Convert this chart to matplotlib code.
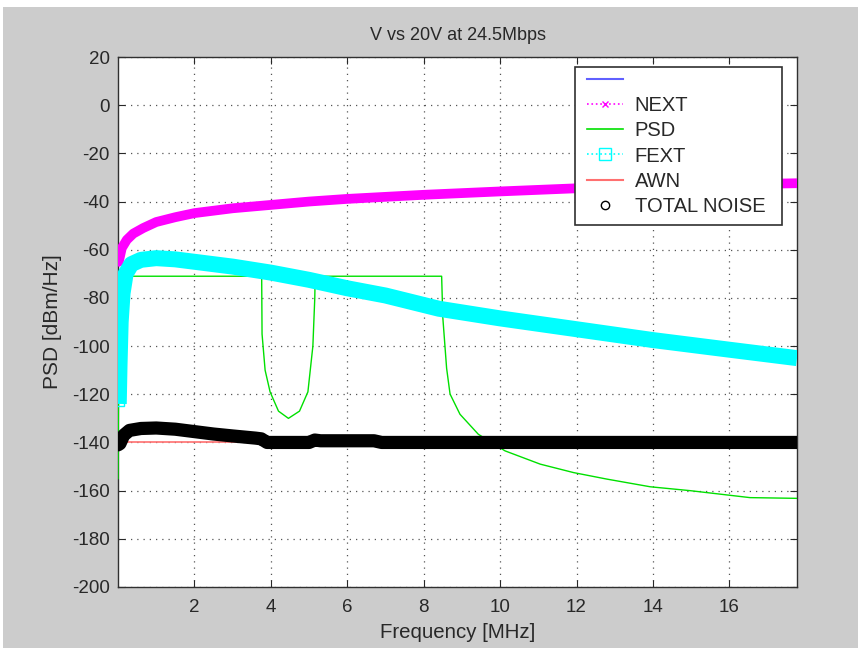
import matplotlib
matplotlib.use("Agg")
import matplotlib.pyplot as plt
from matplotlib.lines import Line2D
from matplotlib.patches import Rectangle

plt.rcParams['font.family'] = ['Liberation Sans', 'DejaVu Sans']
plt.rcParams['axes.unicode_minus'] = False

# values
next_f = [0.02, 0.1, 0.23, 0.4, 0.66, 1.0, 1.5, 2.0, 3.0, 4.0, 5.0, 6.0, 8.0, 10.0, 12.0, 14.0, 16.0, 17.77]
next_db = [-65, -59.3, -55.9, -53.3, -51, -48.5, -46.5, -44.8, -42.8, -41.4, -40, -38.9, -37.2, -35.8, -34.5, -33.6, -32.9, -32.4]

fext_f = [0.02, 0.04, 0.07, 0.12, 0.2, 0.35, 0.6, 1.0, 1.5, 2.0, 3.0, 4.0, 5.0, 6.0, 7.0, 8.4, 10.0, 12.0, 14.0, 16.0, 17.77]
fext_db = [-124, -108, -90, -78, -70, -66, -64.2, -63.5, -64, -65, -67, -69.5, -72.5, -76, -79, -84.5, -88.5, -93, -97.5, -101.5, -105]

# the separate squares at the low start of FEXT
fext_sq_f = [0.03, 0.03, 0.03, 0.03, 0.03]
fext_sq_db = [-123, -119, -115, -111, -107]

psd_f = [0.0, 0.03, 3.76, 3.77, 3.85, 3.98, 4.2, 4.46, 4.75, 4.97, 5.1, 5.15, 5.16, 8.47, 8.5,
         8.6, 8.69, 8.95, 9.43, 10.13, 11.05, 11.92, 12.79, 13.93, 14.97, 16.54, 17.77]
psd_db = [-155, -71, -71, -95, -110, -119, -127, -130, -127, -119, -100, -80, -71, -71, -88,
          -109.2, -119.9, -128.3, -136.6, -143.5, -149, -152.5, -155.2, -158.4, -160, -162.9, -163.2]

awn_f = [0.05, 17.77]
awn_db = [-139.7, -139.7]

tot_f = [0.0, 0.05, 0.15, 0.3, 0.6, 1.0, 1.5, 2.0, 2.5, 3.0, 3.6, 3.75, 3.9, 5.0, 5.15, 5.3, 6.7, 6.9, 17.77]
tot_db = [-141, -140.5, -137, -135, -134.2, -134, -134.5, -135.5, -136.5, -137.3, -138.2, -138.5, -140, -140, -139, -139.3, -139.3, -140, -140]

yticks = list(range(-200, 21, 20))
xticks = [2, 4, 6, 8, 10, 12, 14, 16]

fig = plt.figure(figsize=(8.64, 6.53), dpi=100, facecolor='white')
fig.patches.append(Rectangle((3 / 864, 5 / 653), 855 / 864, 641 / 653, transform=fig.transFigure,
                             facecolor='#cccccc', edgecolor='none', zorder=-10))
ax = fig.add_axes([118 / 864, 66 / 653, 679 / 864, 530 / 653])
ax.set_facecolor('white')

ax.plot(awn_f, awn_db, color='#ff7070', lw=1.2, zorder=2)
ax.plot(psd_f, psd_db, color='#00e000', lw=1.0, zorder=3)
ax.plot(next_f, next_db, color='#ff00ff', lw=7, solid_capstyle='round', solid_joinstyle='round', zorder=4)
ax.plot(fext_f, fext_db, color='#00ffff', lw=11.5, solid_capstyle='butt', solid_joinstyle='round', zorder=5)
ax.plot(fext_sq_f, fext_sq_db, ls='none', marker='s', ms=7, mfc='none', mec='#00ffff', zorder=5)
ax.plot(tot_f, tot_db, color='black', lw=9.5, solid_capstyle='round', solid_joinstyle='round', zorder=6)

ax.set_xlim(0, 17.77)
ax.set_ylim(-200, 20)
ax.set_xticks(xticks)
ax.set_yticks(yticks)
ax.tick_params(direction='in', top=True, right=True, length=5, labelsize=13.5, colors='#282828', pad=6)
ax.tick_params(axis='x', pad=9)
ax.grid(True, color='#555555', linestyle=(0, (1, 4)), lw=0.9)
for s in ax.spines.values():
    s.set_color('#303030')
    s.set_linewidth(1.0)

ax.set_title('V vs 20V at 24.5Mbps', fontsize=13, color='#282828', pad=12)
ax.set_xlabel('Frequency [MHz]', fontsize=14.7, color='#282828', labelpad=5)
ax.set_ylabel('PSD [dBm/Hz]', fontsize=15, color='#282828', labelpad=7)

# legend box drawn separately (MATLAB style, wider on the right)
ax.add_patch(Rectangle((0.673, 0.683), 0.305, 0.298, transform=ax.transAxes,
                       facecolor='white', edgecolor='#303030', lw=1.2, zorder=9))

handles = [
    Line2D([], [], color='#6060ff', lw=1.5),
    Line2D([], [], color='#ff00ff', lw=1.2, ls=':', marker='x', ms=5),
    Line2D([], [], color='#00e000', lw=1.2),
    Line2D([], [], color='#00ffff', lw=1.2, ls=':', marker='s', ms=9, mfc='none'),
    Line2D([], [], color='#ff7070', lw=1.5),
    Line2D([], [], color='black', ls='none', marker='o', ms=6, mfc='none'),
]
labels = [' ', 'NEXT', 'PSD', 'FEXT', 'AWN', 'TOTAL NOISE']
leg = ax.legend(handles, labels, loc='upper left', bbox_to_anchor=(0.691, 0.974),
                fontsize=14.5, frameon=False, handlelength=1.8,
                labelspacing=0.31, borderpad=0, handletextpad=0.55, borderaxespad=0)
for t in leg.get_texts():
    t.set_color('#282828')
leg.set_zorder(10)

fig.savefig('out.png', dpi=100, facecolor=fig.get_facecolor())
